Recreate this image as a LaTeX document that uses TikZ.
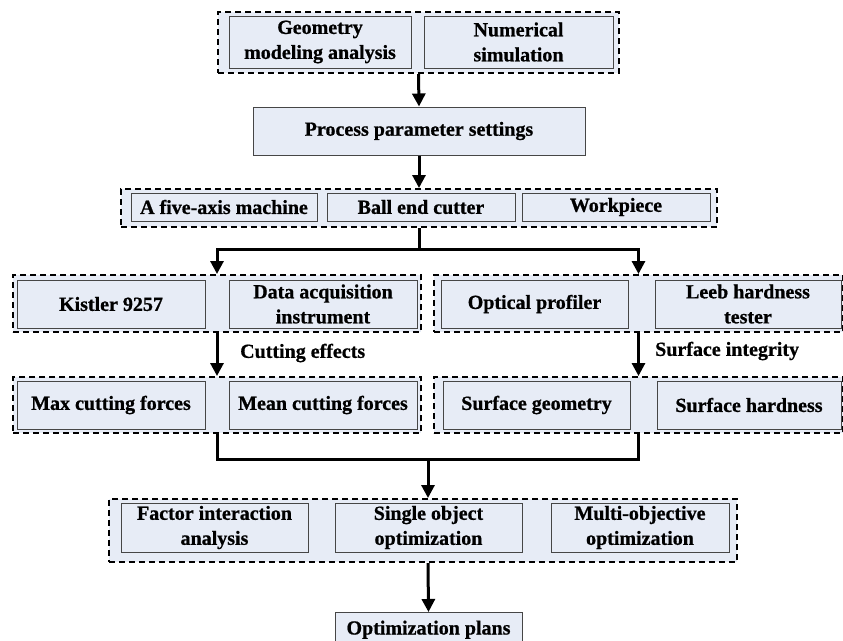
\documentclass[tikz,border=0pt]{standalone}
\usepackage{fontspec}
\setmainfont[BoldFeatures={FakeBold=0.8}]{Liberation Serif}
\usepackage{xcolor}
\usepackage{tikz}
\usetikzlibrary{arrows.meta}
\usetikzlibrary{positioning}
\definecolor{boxfill}{RGB}{231,236,246}
\definecolor{boxline}{RGB}{70,70,70}
\tikzset{
  box/.style={draw=boxline, line width=1pt, fill=boxfill, inner sep=0pt, align=center,
    font=\fontsize{20}{25}\selectfont\bfseries, minimum height=48pt},
  grp/.style={draw=black, line width=2pt, dash pattern=on 6pt off 4pt, fill=boxfill, inner sep=0pt},
  arr/.style={line width=3pt, arrows={-Triangle[width=13pt, length=13pt]}},
  lbl/.style={font=\fontsize{20}{25}\selectfont\bfseries, anchor=west, inner sep=0pt}
}
\begin{document}
\begin{tikzpicture}[x=1pt, y=-1pt]
\useasboundingbox (0,0) rectangle (843,640);
\node[grp, minimum width=401pt, minimum height=61pt] (gsim) at (418.5,42.5) {};
\node[box, minimum width=182pt, minimum height=52pt] (geo) at (320,42) {Geometry\\modeling analysis};
\node[box, minimum width=189pt, minimum height=52pt] (num) at (518.5,42) {Numerical\\simulation};
\node[box, minimum width=332pt] (pps) at (419,131) {Process parameter settings};
\node[grp, minimum width=596pt, minimum height=38pt] (gtool) at (419,208) {};
\node[box, minimum width=186pt, minimum height=28pt] (mach) at (224,207) {A five-axis machine};
\node[box, minimum width=188pt, minimum height=28pt] (cutter) at (421,207) {Ball end cutter};
\node[box, minimum width=188pt, minimum height=28pt] (work) at (616,207) {Workpiece};
\node[grp, minimum width=408pt, minimum height=57pt] (gforce) at (217,303.5) {};
\node[box, minimum width=188pt] (kis) at (111,304) {Kistler 9257};
\node[box, minimum width=188pt] (daq) at (323,304) {Data acquisition\\instrument};
\node[grp, minimum width=409pt, minimum height=57pt] (gsurf) at (638.5,303.5) {};
\node[box, minimum width=187pt] (prof) at (534.5,304) {Optical profiler};
\node[box, minimum width=186pt] (leeb) at (748,304) {Leeb hardness\\tester};
\node[grp, minimum width=408pt, minimum height=56pt] (geff) at (217,405) {};
\node[box, minimum width=188pt] (maxf) at (111,405) {Max cutting forces};
\node[box, minimum width=188pt] (meanf) at (323,405) {Mean cutting forces};
\node[grp, minimum width=409pt, minimum height=56pt] (gint) at (638.5,405) {};
\node[box, minimum width=187pt] (sgeo) at (536.5,405) {Surface geometry};
\node[box, minimum width=184pt] (shard) at (749,405) {Surface hardness};
\node[grp, minimum width=628pt, minimum height=63pt] (gopt) at (423,530.5) {};
\node[box, minimum width=187pt, minimum height=49pt] (fia) at (214.5,527.5) {Factor interaction\\analysis};
\node[box, minimum width=187pt, minimum height=49pt] (soo) at (428.5,527.5) {Single object\\optimization};
\node[box, minimum width=178pt, minimum height=49pt] (moo) at (640,527.5) {Multi-objective\\optimization};
\node[box, minimum width=187pt, minimum height=0pt, text height=22pt, text depth=14pt, anchor=north] (plan) at (428.5,612) {Optimization plans};
\node[lbl] (ceff) at (240,353) {Cutting effects};
\node[lbl] (sint) at (655,351) {Surface integrity};
\coordinate (merge) at (428,459);
\draw[arr] (gsim.south) -- (pps.north);
\draw[arr] (pps.south) -- (gtool.north);
\draw[line width=3pt] (gtool.south) -- ++(0,21) coordinate (split);
\draw[arr] (split) -| (gforce.north);
\draw[arr] (split) -| (gsurf.north);
\draw[arr] (gforce.south) -- (geff.north);
\draw[arr] (gsurf.south) -- (gint.north);
\draw[line width=3pt] (geff.south) |- (merge) -| (gint.south);
\draw[arr] (merge) -- (merge |- gopt.north);
\draw[arr] (merge |- gopt.south) -- (plan.north);
\end{tikzpicture}
\end{document}
